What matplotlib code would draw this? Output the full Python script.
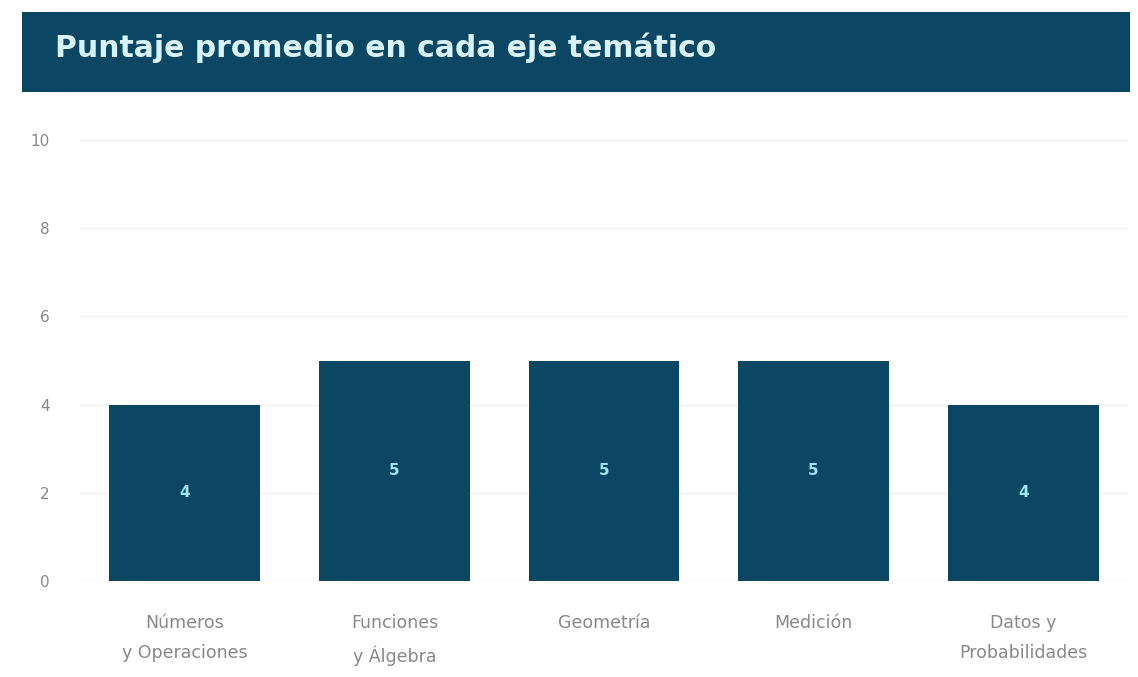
import matplotlib.pyplot as plt

# datos
ejes = ['Números\ny Operaciones', 'Funciones\ny Álgebra', 'Geometría', 'Medición', 'Datos y\nProbabilidades']
puntaje = [4, 5, 5, 5, 4]
yticks = [0, 2, 4, 6, 8, 10]
titulo = 'Puntaje promedio en cada eje temático'

azul = '#0b4762'

fig = plt.figure(figsize=(11.38, 6.77), dpi=100)

# banda del titulo
tax = fig.add_axes([22/1138, 1-92/677, 1108/1138, 80/677])
tax.set_facecolor(azul)
tax.set_xticks([])
tax.set_yticks([])
for s in tax.spines.values():
    s.set_visible(False)
tax.text(0.03, 0.55, titulo, color='#d9f3fa', fontsize=21.5, fontweight='bold',
         va='center', ha='left', transform=tax.transAxes)

ax = fig.add_axes([80/1138, 1-581/677, 1048/1138, 441/677])
x = range(len(ejes))
bars = ax.bar(x, puntaje, width=0.72, color=azul, zorder=2)
for i, v in enumerate(puntaje):
    ax.text(i, v/2, str(v), color='#9fe3f5', ha='center', va='center', fontsize=11, fontweight='bold')

ax.set_xlim(-0.5, len(ejes)-0.5)
ax.set_ylim(0, 10)
ax.set_yticks(yticks)
ax.set_xticks(list(x))
ax.set_xticklabels(ejes, color='#888888', fontsize=12.5, linespacing=1.8)
ax.tick_params(axis='y', colors='#888888', labelsize=11, length=0, pad=22)
ax.tick_params(axis='x', length=0, pad=24)
ax.grid(axis='y', color='#eeeeee', linewidth=1, zorder=0)
for s in ax.spines.values():
    s.set_visible(False)

plt.savefig('out.png', dpi=100)
